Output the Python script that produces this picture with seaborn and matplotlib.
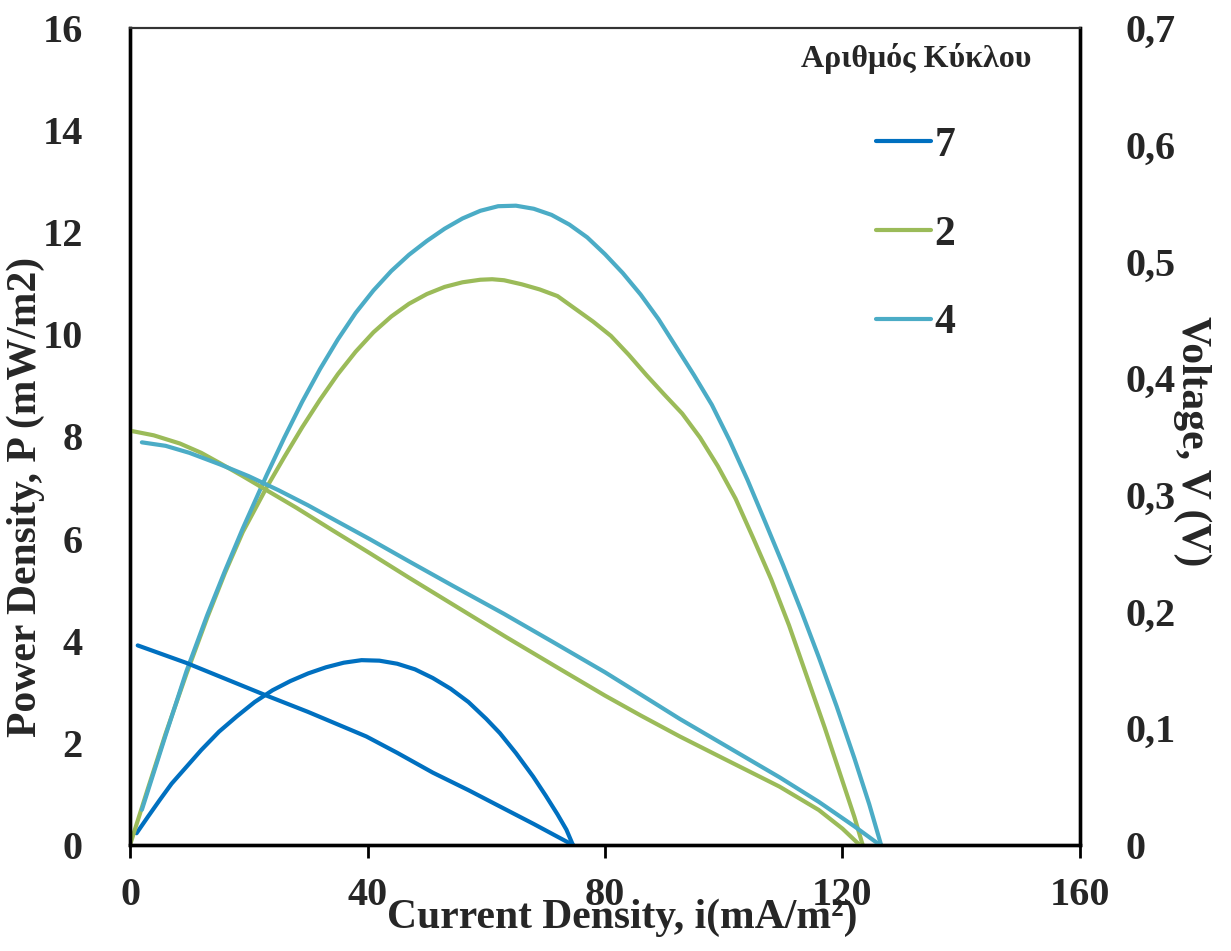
import numpy as np
import pandas as pd
import matplotlib
matplotlib.use("Agg")
import matplotlib.pyplot as plt
from matplotlib.ticker import FixedLocator, FuncFormatter
from matplotlib.lines import Line2D
import seaborn as sns

# ---------------- data ----------------
cycles = ["7", "2", "4"]
colors = ["#0070C0", "#9BBB59", "#4BACC6"]

# power density curves (mW/m2)
x7_p = [1.1, 3, 5, 7, 9.5, 12, 15, 18, 21, 24, 27, 30, 33, 36, 39, 42, 45, 48, 51,
        54, 57, 60, 62.3, 65, 67.9, 70, 72, 73.5, 74.6]
p7 = [0.23, 0.55, 0.88, 1.2, 1.53, 1.86, 2.22, 2.52, 2.80, 3.03, 3.21, 3.36, 3.48,
      3.57, 3.62, 3.61, 3.55, 3.44, 3.27, 3.06, 2.80, 2.47, 2.19, 1.80, 1.34, 0.97,
      0.6, 0.3, 0.0]

x2_p = [0, 3, 6, 9.5, 13, 16, 19, 23, 26, 29, 32, 35, 38, 41, 44, 47, 50, 53, 56, 59,
        61, 63, 66, 69, 72, 75, 78, 81, 84, 87, 90, 93, 96, 99, 102, 105, 108, 111,
        114, 117, 120, 122, 123.4]
p2 = [0, 1.1, 2.18, 3.35, 4.45, 5.33, 6.13, 7.0, 7.6, 8.18, 8.72, 9.22, 9.66, 10.04,
      10.35, 10.6, 10.79, 10.93, 11.02, 11.07, 11.08, 11.06, 10.98, 10.88, 10.75,
      10.5, 10.25, 9.97, 9.6, 9.2, 8.82, 8.45, 7.98, 7.42, 6.78, 6.0, 5.2, 4.3, 3.3,
      2.3, 1.25, 0.55, 0]

x4_p = [2, 4, 6, 9.5, 13, 16, 19, 23, 26, 29, 32, 35, 38, 41, 44, 47, 50, 53, 56, 59,
        62, 65, 68, 71, 74, 77, 80, 83, 86, 89, 92, 95, 98, 101, 104, 107, 110, 113,
        116, 119, 122, 124.5, 126.5]
p4 = [0.69, 1.42, 2.15, 3.4, 4.5, 5.37, 6.2, 7.24, 7.98, 8.68, 9.32, 9.9, 10.42,
      10.86, 11.24, 11.56, 11.83, 12.07, 12.27, 12.42, 12.51, 12.52, 12.46, 12.34,
      12.15, 11.9, 11.57, 11.2, 10.78, 10.3, 9.75, 9.2, 8.62, 7.92, 7.15, 6.32, 5.48,
      4.6, 3.68, 2.72, 1.7, 0.8, 0]

# voltage curves (V)
x7_v = [1.3, 9.5, 23, 30, 39.8, 45, 51, 57, 62.3, 68, 74.6]
v7 = [0.171, 0.156, 0.128, 0.114, 0.093, 0.079, 0.062, 0.047, 0.033, 0.018, 0.0]

x2_v = [0, 4, 8.4, 12, 15.2, 19, 23, 28, 34, 40.4, 47, 54.4, 63.4, 72, 80, 86, 92.6,
        100, 109.4, 116, 120, 122.9]
v2 = [0.355, 0.351, 0.344, 0.336, 0.327, 0.316, 0.304, 0.289, 0.27, 0.25, 0.229,
      0.206, 0.178, 0.152, 0.128, 0.111, 0.093, 0.074, 0.050, 0.030, 0.014, 0.0]

x4_v = [2, 6, 10, 15.2, 20, 25, 30, 35, 40.4, 47, 54.4, 63, 71.2, 80, 86, 92.6, 100,
        109.4, 116, 122, 126.3]
v4 = [0.345, 0.342, 0.336, 0.326, 0.316, 0.304, 0.291, 0.277, 0.262, 0.243, 0.222,
      0.198, 0.174, 0.148, 0.129, 0.108, 0.086, 0.058, 0.037, 0.016, 0.0]

x_ticks = [0, 40, 80, 120, 160]
p_ticks = [0, 2, 4, 6, 8, 10, 12, 14, 16]
v_ticks = [0, 0.1, 0.2, 0.3, 0.4, 0.5, 0.6, 0.7]

# ---------------- build tables ----------------
power_df = pd.concat([
    pd.DataFrame({"i": x7_p, "P": p7, "cycle": "7"}),
    pd.DataFrame({"i": x2_p, "P": p2, "cycle": "2"}),
    pd.DataFrame({"i": x4_p, "P": p4, "cycle": "4"}),
], ignore_index=True)
volt_df = pd.concat([
    pd.DataFrame({"i": x7_v, "V": v7, "cycle": "7"}),
    pd.DataFrame({"i": x2_v, "V": v2, "cycle": "2"}),
    pd.DataFrame({"i": x4_v, "V": v4, "cycle": "4"}),
], ignore_index=True)

# ---------------- style ----------------
sns.set_theme(style="white")
plt.rcParams["font.family"] = ["Liberation Serif", "DejaVu Serif"]
plt.rcParams["font.weight"] = "bold"

fig = plt.figure(figsize=(12.31, 9.51), dpi=100)
ax = fig.add_axes([130 / 1231, 1 - 845 / 951, 950 / 1231, 817 / 951])
ax2 = ax.twinx()

palette = dict(zip(cycles, colors))
lw = 3.0
sns.lineplot(data=power_df, x="i", y="P", hue="cycle", palette=palette,
             hue_order=cycles, estimator=None, sort=False, lw=lw, ax=ax,
             legend=False, solid_capstyle="round", solid_joinstyle="round")
sns.lineplot(data=volt_df, x="i", y="V", hue="cycle", palette=palette,
             hue_order=cycles, estimator=None, sort=False, lw=lw, ax=ax2,
             legend=False, solid_capstyle="round", solid_joinstyle="round")

ax.set_xlim(0, 160)
ax.set_ylim(0, 16)
ax2.set_ylim(0, 0.7)

tick_fs = 29
ax.xaxis.set_major_locator(FixedLocator(x_ticks))
ax.yaxis.set_major_locator(FixedLocator(p_ticks))
ax2.yaxis.set_major_locator(FixedLocator(v_ticks))
ax2.yaxis.set_major_formatter(FuncFormatter(
    lambda v, pos: "0" if abs(v) < 1e-9 else f"{v:.1f}".replace(".", ",")))

ax.tick_params(axis="x", which="major", direction="out", length=9, width=2,
               color="black", labelsize=tick_fs, pad=14, bottom=True)
ax.tick_params(axis="y", which="major", length=0, labelsize=tick_fs, pad=34)
ax2.tick_params(axis="y", which="major", length=0, labelsize=tick_fs, pad=33)
for lab in ax.get_xticklabels() + ax.get_yticklabels() + ax2.get_yticklabels():
    lab.set_fontweight("bold")

for a in (ax, ax2):
    for side in ("left", "bottom", "right"):
        a.spines[side].set_color("black")
        a.spines[side].set_linewidth(2.4)
    a.spines["top"].set_color("#333333")
    a.spines["top"].set_linewidth(1.5)
    a.grid(False)

lab_fs = 30
ax.set_xlabel("Current Density, i(mA/m²)", fontsize=lab_fs, fontweight="bold")
ax.xaxis.set_label_coords((622 - 130) / 950, -0.066)
ax.set_ylabel("Power Density, P (mW/m2)", fontsize=lab_fs, fontweight="bold")
ax.yaxis.set_label_coords((45 - 130) / 950, (845 - 497) / 817)
ax2.set_ylabel("Voltage, V (V)", fontsize=lab_fs, fontweight="bold", rotation=270)
ax2.yaxis.label.set_verticalalignment("bottom")
ax2.yaxis.set_label_coords((1173 - 130) / 950, (845 - 441) / 817)

# legend
handles = [Line2D([0], [0], color=c, lw=lw, solid_capstyle="round") for c in colors]
leg = ax2.legend(handles, cycles, title="Αριθμός Κύκλου", frameon=False,
                 loc="upper center", bbox_to_anchor=(916 / 1231, 1 - 43 / 951),
                 bbox_transform=fig.transFigure, prop={"size": 30, "weight": "bold"},
                 title_fontproperties={"size": 23, "weight": "bold"},
                 handlelength=1.3, handletextpad=0.1, labelspacing=1.21,
                 borderpad=0, borderaxespad=0)
leg._legend_box.sep = 38

fig.savefig("out.png", dpi=100)
